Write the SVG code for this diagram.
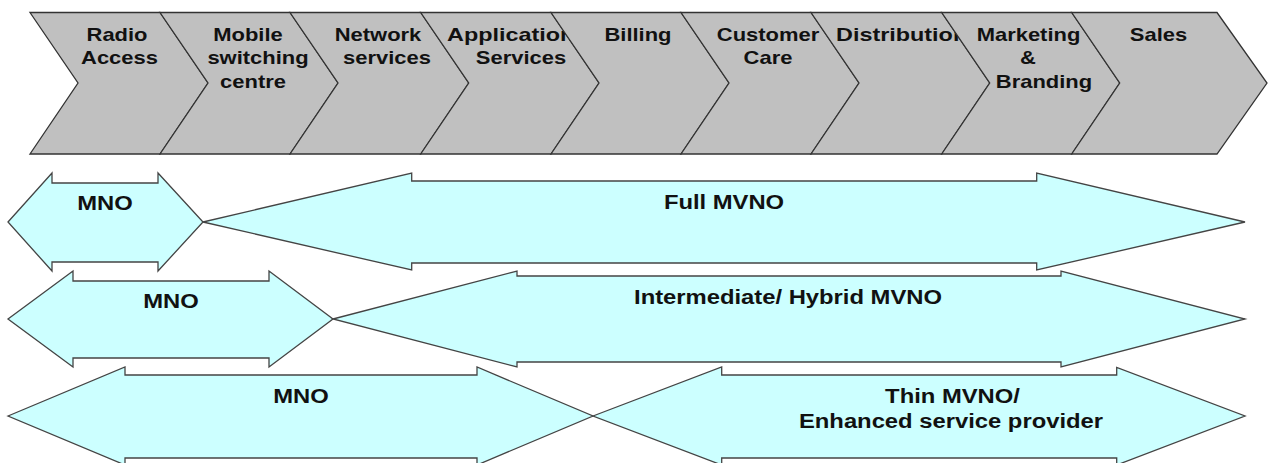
<svg xmlns="http://www.w3.org/2000/svg" width="1268" height="463" viewBox="0 0 1268 463">
<style>
.chev{fill:#c0c0c0;stroke:#333;stroke-width:1.3;stroke-linejoin:miter}
.arr{fill:#ccffff;stroke:#444;stroke-width:1.3;stroke-linejoin:miter}
.ct{font-family:"Liberation Sans",Arial,sans-serif;font-weight:bold;font-size:18px;fill:#111;text-anchor:middle}
.cs{font-family:"Liberation Sans",Arial,sans-serif;font-weight:bold;font-size:18px;fill:#111;text-anchor:start}
.at{font-family:"Liberation Sans",Arial,sans-serif;font-weight:bold;font-size:20px;fill:#111;text-anchor:middle}
</style>
<rect width="1268" height="463" fill="#fff"/>
<g id="chevrons">
<g id="radio-access">
<polygon class="chev" points="30,12.5 160,12.5 208,83 160,154 30,154 78,83"/>
<text class="ct" transform="translate(117,41) scale(1.22,1)">Radio</text>
<text class="ct" transform="translate(119.5,64) scale(1.22,1)">Access</text>
</g>
<g id="mobile-switching">
<polygon class="chev" points="160,12.5 290,12.5 338,83 290,154 160,154 208,83"/>
<text class="ct" transform="translate(248,41) scale(1.22,1)">Mobile</text>
<text class="ct" transform="translate(258,64) scale(1.22,1)">switching</text>
<text class="ct" transform="translate(253,88) scale(1.22,1)">centre</text>
</g>
<g id="network-services">
<polygon class="chev" points="290,12.5 420.7,12.5 468.7,83 420.7,154 290,154 338,83"/>
<text class="ct" transform="translate(378,41) scale(1.22,1)">Network</text>
<text class="ct" transform="translate(387,64) scale(1.22,1)">services</text>
</g>
<g id="application-services">
<polygon class="chev" points="420.7,12.5 551,12.5 599,83 551,154 420.7,154 468.7,83"/>
<text class="cs" transform="translate(447,41) scale(1.3,1)">Application</text>
<text class="ct" transform="translate(521,64) scale(1.22,1)">Services</text>
</g>
<g id="billing">
<polygon class="chev" points="551,12.5 681,12.5 729,83 681,154 551,154 599,83"/>
<text class="ct" transform="translate(638,41) scale(1.22,1)">Billing</text>
</g>
<g id="customer-care">
<polygon class="chev" points="681,12.5 811,12.5 859,83 811,154 681,154 729,83"/>
<text class="ct" transform="translate(768,41) scale(1.22,1)">Customer</text>
<text class="ct" transform="translate(768,64) scale(1.22,1)">Care</text>
</g>
<g id="distribution">
<polygon class="chev" points="811,12.5 941.7,12.5 989.7,83 941.7,154 811,154 859,83"/>
<text class="cs" transform="translate(836,41) scale(1.3,1)">Distribution</text>
</g>
<g id="marketing-branding">
<polygon class="chev" points="941.7,12.5 1071.7,12.5 1119.7,83 1071.7,154 941.7,154 989.7,83"/>
<text class="ct" transform="translate(1028.5,41) scale(1.22,1)">Marketing</text>
<text class="ct" transform="translate(1028,64) scale(1.22,1)">&amp;</text>
<text class="ct" transform="translate(1044,88) scale(1.22,1)">Branding</text>
</g>
<g id="sales">
<polygon class="chev" points="1071.7,12.5 1217,12.5 1267,83 1217,154 1071.7,154 1119.7,83"/>
<text class="ct" transform="translate(1158.5,41) scale(1.22,1)">Sales</text>
</g>
</g>
<g id="connectors">
<g id="mno-1">
<path class="arr" d="M8,222 L52,173 L52,183 L158,183 L158,173 L203,222 L158,271 L158,262 L52,262 L52,271 Z"/>
<text class="at" transform="translate(105,210) scale(1.19,1)">MNO</text>
</g>
<g id="full-mvno">
<path class="arr" d="M203,222 L411.7,173 L411.7,181 L1036.7,181 L1036.7,173 L1245,222 L1036.7,270 L1036.7,263 L411.7,263 L411.7,270 Z"/>
<text class="at" transform="translate(724,209) scale(1.19,1)">Full MVNO</text>
</g>
<g id="mno-2">
<path class="arr" d="M8,319 L73,271 L73,281 L269,281 L269,271 L333,319 L269,367 L269,358 L73,358 L73,367 Z"/>
<text class="at" transform="translate(171,308) scale(1.19,1)">MNO</text>
</g>
<g id="intermediate-mvno">
<path class="arr" d="M333,319 L517,271 L517,276 L1061,276 L1061,271 L1245,319 L1061,367 L1061,362 L517,362 L517,367 Z"/>
<text class="at" transform="translate(788,304) scale(1.19,1)">Intermediate/ Hybrid MVNO</text>
</g>
<g id="mno-3">
<path class="arr" d="M8,416 L125,367 L125,375 L477,375 L477,367 L593,416 L477,465 L477,458 L125,458 L125,465 Z"/>
<text class="at" transform="translate(301,403) scale(1.19,1)">MNO</text>
</g>
<g id="thin-mvno">
<path class="arr" d="M593,416 L721.7,367 L721.7,375 L1116.7,375 L1116.7,367.5 L1245,416 L1116.7,465 L1116.7,458 L721.7,458 L721.7,465 Z"/>
<text class="at" transform="translate(952.5,403) scale(1.19,1)">Thin MVNO/</text>
<text class="at" transform="translate(951,428) scale(1.19,1)">Enhanced service provider</text>
</g>
</g>
</svg>
